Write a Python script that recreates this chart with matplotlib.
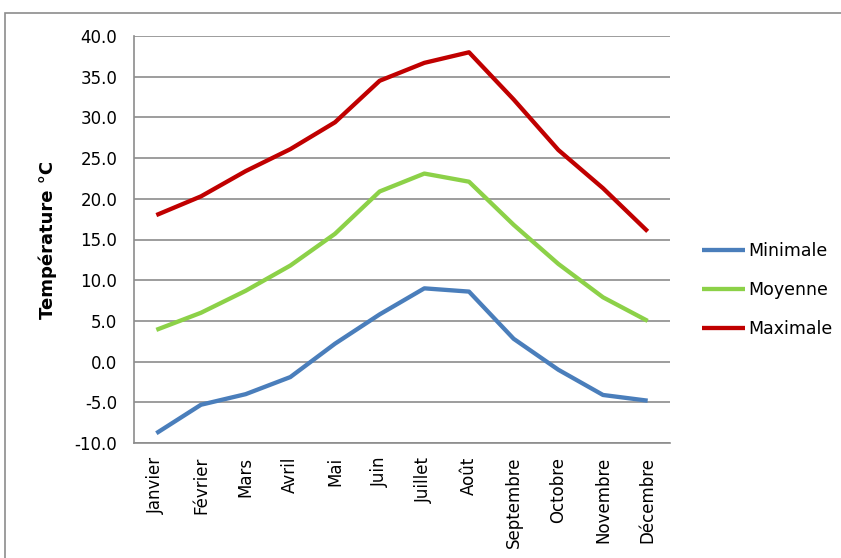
import matplotlib.pyplot as plt
from matplotlib.patches import Rectangle

plt.rcParams['font.family'] = ['DejaVu Sans']

mois = ['Janvier', 'Février', 'Mars', 'Avril', 'Mai', 'Juin', 'Juillet',
        'Août', 'Septembre', 'Octobre', 'Novembre', 'Décembre']
t_min = [-8.8, -5.3, -4.0, -1.9, 2.2, 5.8, 9.0, 8.6, 2.8, -1.0, -4.1, -4.8]
t_moy = [3.9, 6.0, 8.7, 11.8, 15.7, 20.9, 23.1, 22.1, 16.8, 12.0, 7.9, 5.0]
t_max = [18.0, 20.3, 23.4, 26.1, 29.4, 34.5, 36.7, 38.0, 32.2, 26.0, 21.3, 16.0]

series = [('Minimale', t_min, '#4a7ebb'),
          ('Moyenne', t_moy, '#8cd148'),
          ('Maximale', t_max, '#c00000')]

W, H = 841, 558
fig = plt.figure(figsize=(W / 100, H / 100), dpi=100)

# outer chart frame
fig.patches.append(Rectangle((5 / W, -0.01), 1.0, 1 - 13 / H + 0.01,
                             transform=fig.transFigure, fill=False,
                             edgecolor='#8c8c8c', linewidth=1.2))

ax = fig.add_axes([134 / W, 1 - 443 / H, (670 - 134) / W, (443 - 36) / H])

x = range(len(mois))
for nom, vals, col in series:
    ax.plot(x, vals, color=col, linewidth=3.1, label=nom,
            solid_capstyle='butt', zorder=3)

ax.set_xlim(-0.5, 11.5)
ax.set_ylim(-10, 40)
ax.set_yticks(range(-10, 41, 5))
ax.set_yticklabels([f'{v:.1f}' for v in range(-10, 41, 5)], fontsize=12)
ax.set_xticks(list(x))
ax.set_xticklabels(mois, rotation=90, fontsize=12)
ax.tick_params(axis='both', length=0)
ax.tick_params(axis='y', pad=12)
ax.tick_params(axis='x', pad=10)

ax.grid(axis='y', color='#8c8c8c', linewidth=1.2)
ax.set_axisbelow(True)
for s in ['top', 'right']:
    ax.spines[s].set_visible(False)
for s in ['left', 'bottom']:
    ax.spines[s].set_color('#8c8c8c')
    ax.spines[s].set_linewidth(1.2)

ax.set_ylabel('Température °C', fontsize=13, fontweight='bold', labelpad=13)

ax.legend(loc='center left', bbox_to_anchor=(1.03, 0.376), frameon=False,
          fontsize=12.5, handlelength=2.5, handletextpad=0.2, labelspacing=1.2)

fig.savefig('out.png', dpi=100)
